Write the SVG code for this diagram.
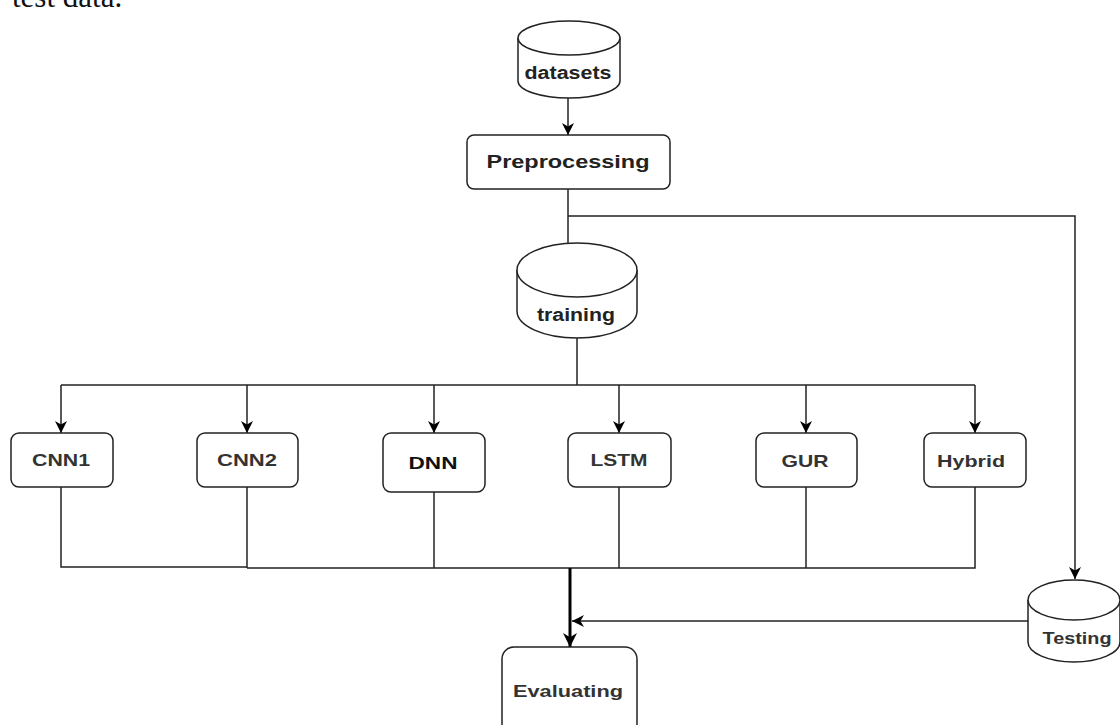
<svg xmlns="http://www.w3.org/2000/svg" width="1120" height="725" viewBox="0 0 1120 725">
<defs>
<style>
.node{fill:#fff;stroke:#222;stroke-width:1.5}
.lbl{font-family:"Liberation Sans",Arial,sans-serif;font-weight:bold;font-size:17px;fill:#333;text-anchor:middle}
.big{font-size:18px;fill:#222}
.ln{fill:none;stroke:#222;stroke-width:1.5}
.thick{fill:none;stroke:#000;stroke-width:3}
</style>
<marker id="ah" viewBox="0 0 10 10" refX="10" refY="5" markerWidth="12" markerHeight="12" markerUnits="userSpaceOnUse" orient="auto">
<path d="M0,0 L10,5 L0,10 L3,5 Z" fill="#000"/>
</marker>
<marker id="ahb" viewBox="0 0 10 10" refX="10" refY="5" markerWidth="14" markerHeight="14" markerUnits="userSpaceOnUse" orient="auto">
<path d="M0,0 L10,5 L0,10 L3,5 Z" fill="#000"/>
</marker>
</defs>
<rect width="1120" height="725" fill="#fff"/>
<text x="12" y="7" font-family="Liberation Serif,serif" font-size="31" fill="#111">test data.</text>

<g id="connectors">
<path class="ln" d="M568,98 V135" marker-end="url(#ah)"/>
<path class="ln" d="M568,189 V243"/>
<path class="ln" d="M568,216 H1075 V579" marker-end="url(#ah)"/>
<path class="ln" d="M577,338 V385"/>
<path class="ln" d="M61,385 H975"/>
<path class="ln" d="M61,385 V433" marker-end="url(#ah)"/>
<path class="ln" d="M247,385 V433" marker-end="url(#ah)"/>
<path class="ln" d="M434,385 V433" marker-end="url(#ah)"/>
<path class="ln" d="M619,385 V433" marker-end="url(#ah)"/>
<path class="ln" d="M806,385 V433" marker-end="url(#ah)"/>
<path class="ln" d="M975,385 V433" marker-end="url(#ah)"/>
<path class="ln" d="M61,487 V567 H247" stroke="#777"/>
<path class="ln" d="M247,487 V568"/>
<path class="ln" d="M434,492 V568"/>
<path class="ln" d="M619,487 V568"/>
<path class="ln" d="M806,487 V568"/>
<path class="ln" d="M975,487 V568 H247"/>
<path class="thick" d="M570,568 V647" marker-end="url(#ahb)"/>
<path class="ln" d="M1028,621 H572" marker-end="url(#ah)"/>
</g>

<g id="datasets">
<path class="node" d="M518,38 V81 A51,17 0 0 0 620,81 V38"/>
<ellipse class="node" cx="569" cy="38" rx="51" ry="17"/>
<text class="lbl big" x="568" y="79" textLength="87" lengthAdjust="spacingAndGlyphs">datasets</text>
</g>

<g id="preprocessing">
<rect class="node" x="467" y="135" width="203" height="54" rx="7"/>
<text class="lbl big" x="568" y="168" textLength="163" lengthAdjust="spacingAndGlyphs">Preprocessing</text>
</g>

<g id="training">
<path class="node" d="M517,270 V311 A60,27 0 0 0 637,311 V270"/>
<ellipse class="node" cx="577" cy="270" rx="60" ry="27"/>
<text class="lbl big" x="576" y="321" textLength="78" lengthAdjust="spacingAndGlyphs">training</text>
</g>

<g id="cnn1">
<rect class="node" x="11" y="433" width="102" height="54" rx="8"/>
<text class="lbl" x="61" y="466" textLength="58" lengthAdjust="spacingAndGlyphs">CNN1</text>
</g>
<g id="cnn2">
<rect class="node" x="197" y="433" width="101" height="54" rx="8"/>
<text class="lbl" x="247" y="466" textLength="60" lengthAdjust="spacingAndGlyphs">CNN2</text>
</g>
<g id="dnn">
<rect class="node" x="383" y="433" width="102" height="59" rx="8"/>
<text class="lbl" x="433" y="469" style="fill:#111" textLength="49" lengthAdjust="spacingAndGlyphs">DNN</text>
</g>
<g id="lstm">
<rect class="node" x="568" y="433" width="103" height="54" rx="8"/>
<text class="lbl" x="619" y="466" textLength="57" lengthAdjust="spacingAndGlyphs">LSTM</text>
</g>
<g id="gur">
<rect class="node" x="756" y="433" width="101" height="54" rx="8"/>
<text class="lbl" x="805" y="467" textLength="47" lengthAdjust="spacingAndGlyphs">GUR</text>
</g>
<g id="hybrid">
<rect class="node" x="924" y="433" width="102" height="54" rx="8"/>
<text class="lbl" x="971" y="467" textLength="68" lengthAdjust="spacingAndGlyphs">Hybrid</text>
</g>

<g id="testing">
<path class="node" d="M1028,600 V642 A46,20 0 0 0 1120,642 V600"/>
<ellipse class="node" cx="1074" cy="600" rx="46" ry="20"/>
<text class="lbl" x="1077" y="644" textLength="69" lengthAdjust="spacingAndGlyphs">Testing</text>
</g>

<g id="evaluating">
<rect class="node" x="502" y="647" width="135" height="95" rx="12"/>
<text class="lbl" x="568" y="697" textLength="110" lengthAdjust="spacingAndGlyphs">Evaluating</text>
</g>
</svg>
